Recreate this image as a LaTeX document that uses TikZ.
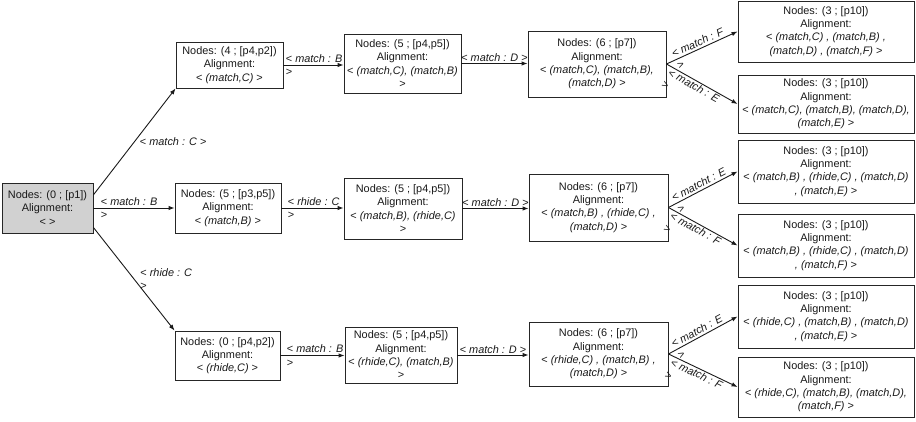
\documentclass[tikz,border=0pt]{standalone}
\usepackage{fontspec}
\setmainfont{Liberation Sans}
\usetikzlibrary{arrows.meta,calc}
\begin{document}
\begin{tikzpicture}[x=1pt,y=-1pt,
  box/.style={draw=black!85, line width=0.9pt, align=center, inner sep=0pt,
    font=\fontsize{10.9}{13.3}\selectfont, text=black!90},
  edge/.style={draw=black!90, line width=0.9pt, -{Latex[length=6pt,width=4.5pt]}},
  lab/.style={font=\fontsize{10.9}{13.3}\selectfont, align=left, inner sep=1pt, text=black!90}]
\useasboundingbox (0,0) rectangle (916,422);

% root
\node[box, fill=black!18, minimum width=91pt, minimum height=50pt] (root) at (47.5,208)
  {Nodes: (0 ; [p1])\\Alignment:\\< >};

% row 1
\node[box, minimum width=107pt, minimum height=46pt] (a1) at (229.5,65)
  {Nodes: (4 ; [p4,p2])\\Alignment:\\< \textit{(match,C)} >};
\node[box, minimum width=117pt, minimum height=59pt] (a2) at (402.5,63.5)
  {Nodes: (5 ; [p4,p5])\\Alignment:\\< \textit{(match,C), (match,B)}\\>};
\node[box, minimum width=138pt, minimum height=66pt] (a3) at (597,64)
  {Nodes: (6 ; [p7])\\Alignment:\\< \textit{(match,C), (match,B),}\\\textit{(match,D)} >};
\node[box, minimum width=176pt, minimum height=61pt] (a4) at (826,31.5)
  {Nodes: (3 ; [p10])\\Alignment:\\< \textit{(match,C) , (match,B) ,}\\\textit{(match,D) , (match,F)} >};
\node[box, minimum width=176pt, minimum height=58pt] (a5) at (826,104)
  {Nodes: (3 ; [p10])\\Alignment:\\< \textit{(match,C), (match,B), (match,D),}\\\textit{(match,E)} >};

% row 2
\node[box, minimum width=106pt, minimum height=50pt] (b1) at (228,208)
  {Nodes: (5 ; [p3,p5])\\Alignment:\\< \textit{(match,B)} >};
\node[box, minimum width=118pt, minimum height=61pt] (b2) at (403,208.5)
  {Nodes: (5 ; [p4,p5])\\Alignment:\\< \textit{(match,B), (rhide,C)}\\>};
\node[box, minimum width=139pt, minimum height=67pt] (b3) at (598.5,207.5)
  {Nodes: (6 ; [p7])\\Alignment:\\< \textit{(match,B) , (rhide,C) ,}\\\textit{(match,D)} >};
\node[box, minimum width=176pt, minimum height=63pt] (b4) at (826,171.5)
  {Nodes: (3 ; [p10])\\Alignment:\\< \textit{(match,B) , (rhide,C) , (match,D)}\\\textit{, (match,E)} >};
\node[box, minimum width=176pt, minimum height=63pt] (b5) at (826,245.5)
  {Nodes: (3 ; [p10])\\Alignment:\\< \textit{(match,B) , (rhide,C) , (match,D)}\\\textit{, (match,F)} >};

% row 3
\node[box, minimum width=105pt, minimum height=49pt] (c1) at (227.5,355.5)
  {Nodes: (0 ; [p4,p2])\\Alignment:\\< \textit{(rhide,C)} >};
\node[box, minimum width=112pt, minimum height=56pt] (c2) at (401,355)
  {Nodes: (5 ; [p4,p5])\\Alignment:\\< \textit{(rhide,C), (match,B)}\\>};
\node[box, minimum width=139pt, minimum height=64pt] (c3) at (598.5,354)
  {Nodes: (6 ; [p7])\\Alignment:\\< \textit{(rhide,C) , (match,B) ,}\\\textit{(match,D)} >};
\node[box, minimum width=176pt, minimum height=63pt] (c4) at (826,316.5)
  {Nodes: (3 ; [p10])\\Alignment:\\< \textit{(rhide,C) , (match,B) , (match,D)}\\\textit{, (match,E)} >};
\node[box, minimum width=176pt, minimum height=60pt] (c5) at (826,387)
  {Nodes: (3 ; [p10])\\Alignment:\\< \textit{(rhide,C), (match,B), (match,D),}\\\textit{(match,F)} >};

% edges from root
\draw[edge] (root.16) -- node[lab, anchor=west, xshift=4pt]{< \textit{match : C} >} (a1.south west);
\draw[edge] (root.east) -- node[lab, pos=0, anchor=west, xshift=6pt]{< \textit{match : B}\\>} (b1.west);
\draw[edge] (root.-23) -- node[lab, anchor=west, xshift=5pt]{< \textit{rhide : C}\\>} (c1.north west);

% row 1 edges
\draw[edge] (a1.east) -- node[lab, pos=0, anchor=west, xshift=1pt]{< \textit{match : B}\\>} (a1.east -| a2.west);
\draw[edge] (a2.east) -- node[lab, above]{< \textit{match : D} >} (a2.east -| a3.west);
\draw[edge] (a3.east) -- node[lab, sloped, pos=0.1, anchor=west]{< \textit{match : F}\\>} (a4.west);
\draw[edge] (a3.east) -- node[lab, sloped, pos=0.06, anchor=north west]{< \textit{match : E}\\>} (a5.west);

% row 2 edges
\draw[edge] (b1.east) -- node[lab, pos=0, anchor=west, xshift=5pt]{< \textit{rhide : C}\\>} (b1.east -| b2.west);
\draw[edge] (b2.east) -- node[lab, above]{< \textit{match : D} >} (b2.east -| b3.west);
\draw[edge] (b3.east) -- node[lab, sloped, pos=0.08, anchor=west]{< \textit{matcht : E}\\>} (b4.west);
\draw[edge] (b3.east) -- node[lab, sloped, pos=0.06, anchor=north west]{< \textit{match : F}\\>} (b5.west);

% row 3 edges
\draw[edge] (c1.east) -- node[lab, pos=0, anchor=west, xshift=5pt]{< \textit{match : B}\\>} (c1.east -| c2.west);
\draw[edge] (c2.east) -- node[lab, above]{< \textit{match : D} >} (c2.east -| c3.west);
\draw[edge] (c3.east) -- node[lab, sloped, pos=0.08, anchor=west]{< \textit{match : E}\\>} (c4.west);
\draw[edge] (c3.east) -- node[lab, sloped, pos=0.06, anchor=north west]{< \textit{match : F}\\>} (c5.west);
\end{tikzpicture}
\end{document}
